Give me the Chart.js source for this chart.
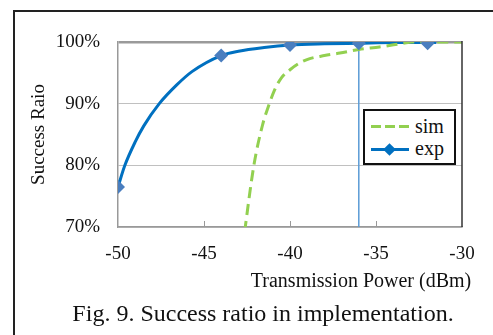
<!DOCTYPE html>
<html>
<head>
<meta charset="utf-8">
<script src="https://cdn.jsdelivr.net/npm/chart.js@4/dist/chart.umd.min.js"></script>
<style>
  html, body { margin: 0; padding: 0; background: #fff; }
  body { width: 493px; height: 335px; position: relative; overflow: hidden; font-family: "Liberation Serif", "Times New Roman", serif; color: #111; }
  #frame { position: absolute; left: 13px; top: 10px; width: 600px; height: 400px; border-left: 2px solid #222; border-top: 2px solid #222; }
  #chart { position: absolute; left: 0; top: 0; }
  .txt { position: absolute; white-space: nowrap; line-height: 1; }
  #xtitle { left: 361px; top: 270px; font-size: 20px; transform: translateX(-50%); }
  #caption { left: 263px; top: 301px; font-size: 24px; transform: translateX(-50%); }
  #legend { position: absolute; left: 363px; top: 109px; width: 89px; height: 52px; border: 2px solid #111; background: #fff; }
  .dash { position: absolute; height: 3px; background: #92D050; }
  .bline { position: absolute; height: 3px; background: #0070C0; }
  .dia { position: absolute; width: 9px; height: 9px; background: #0070C0; transform: rotate(45deg); }
  .lab { position: absolute; font-size: 20px; line-height: 1; }
</style>
</head>
<body>
<div id="frame"></div>
<canvas id="chart" width="493" height="335"></canvas>
<div class="txt" id="xtitle">Transmission Power (dBm)</div>
<div class="txt" id="caption">Fig. 9. Success ratio in implementation.</div>
<div id="legend">
  <div class="dash" style="left:6px; top:14px; width:10px;"></div>
  <div class="dash" style="left:20px; top:14px; width:10px;"></div>
  <div class="dash" style="left:34px; top:14px; width:10px;"></div>
  <div class="lab" style="left:50px; top:5px;">sim</div>
  <div class="bline" style="left:6px; top:37px; width:38px;"></div>
  <div class="dia" style="left:20px; top:34px;"></div>
  <div class="lab" style="left:50px; top:27px;">exp</div>
</div>
<script>
// x ticks / y ticks
const xMin = -50, xMax = -30, xStep = 5;
const yMin = 70, yMax = 100, yStep = 10;

// exp: measured points (markers)
const expX = [-50, -44, -40, -36, -32];
const expY = [76.5, 97.8, 99.5, 99.8, 99.8];

// exp: fitted curve as drawn
const expCurveX = [-50, -49.6, -49, -48.5, -47.6, -46.6, -45.7, -44, -43, -41.5, -40, -38, -36, -34, -32, -31.5];
const expCurveY = [76.5, 80, 83.8, 86.4, 90, 93, 95.2, 97.8, 98.5, 99.1, 99.5, 99.7, 99.8, 99.9, 99.9, 99.9];

// sim
const simX = [-43, -42.6, -42.1, -41.6, -41.2, -40.9, -40.5, -40, -39.5, -38.85, -38, -37.1, -36, -34.8, -33.4, -32.9, -30];
const simY = [61, 70, 80, 86.5, 90, 92.2, 94.2, 95.5, 96.5, 97.3, 97.8, 98.2, 98.8, 99.2, 99.8, 100, 100];

// reference line
const refX = -36;

const pts = (xs, ys) => xs.map((x, i) => ({ x, y: ys[i] }));
const serif = "'Liberation Serif', 'Times New Roman', serif";

// inner tick marks on x axis + dark right border
const frameBits = {
  id: 'frameBits',
  afterDatasetsDraw(chart) {
    const { ctx, chartArea: a, scales: { x } } = chart;
    ctx.save();
    ctx.strokeStyle = '#999';
    ctx.lineWidth = 1;
    for (let v = xMin + xStep; v < xMax; v += xStep) {
      const px = Math.round(x.getPixelForValue(v)) + 0.5;
      ctx.beginPath();
      ctx.moveTo(px, a.bottom);
      ctx.lineTo(px, a.bottom - 6);
      ctx.stroke();
    }
    ctx.strokeStyle = '#333';
    ctx.lineWidth = 1.5;
    ctx.beginPath();
    ctx.moveTo(a.right, a.top - 1);
    ctx.lineTo(a.right, a.bottom);
    ctx.stroke();
    ctx.restore();
  }
};

new Chart(document.getElementById('chart'), {
  type: 'line',
  data: {
    datasets: [
      {
        label: 'exp',
        data: pts(expX, expY),
        showLine: false,
        pointStyle: 'rectRot',
        pointRadius: 7,
        backgroundColor: '#4A7EBF',
        borderColor: '#4A7EBF',
        borderWidth: 0
      },
      {
        label: 'sim',
        data: pts(simX, simY),
        borderColor: '#92D050',
        borderWidth: 3,
        borderDash: [11, 6],
        cubicInterpolationMode: 'monotone',
        pointRadius: 0
      },
      {
        label: 'exp curve',
        data: pts(expCurveX, expCurveY),
        borderColor: '#0070C0',
        borderWidth: 3,
        cubicInterpolationMode: 'monotone',
        pointRadius: 0
      },
      {
        label: 'ref',
        data: [{ x: refX, y: yMin }, { x: refX, y: yMax }],
        borderColor: '#5B9BD5',
        borderWidth: 1.5,
        pointRadius: 0
      }
    ]
  },
  options: {
    responsive: false,
    animation: false,
    layout: { padding: { left: 28, top: 42, right: 31, bottom: 68 } },
    plugins: { legend: { display: false }, tooltip: { enabled: false } },
    scales: {
      x: {
        type: 'linear',
        min: xMin, max: xMax,
        afterFit: s => { s.height = 40; },
        grid: { display: false, drawTicks: false },
        border: { display: true, color: '#999', width: 1.5 },
        ticks: { stepSize: xStep, padding: 16, color: '#111', font: { family: serif, size: 19 } }
      },
      y: {
        min: yMin, max: yMax,
        afterFit: s => { s.width = 90; },
        grid: {
          drawTicks: false,
          color: c => c.tick && c.tick.value === yMax ? '#9a9a9a' : '#c0c0c0',
          lineWidth: c => c.tick && c.tick.value === yMax ? 2.5 : 1
        },
        border: { display: true, color: '#999', width: 1.5 },
        title: { display: true, text: 'Success Raio', color: '#111', padding: 0, font: { family: serif, size: 19 } },
        ticks: { stepSize: yStep, padding: 18, color: '#111', font: { family: serif, size: 19 }, callback: v => v + '%' }
      }
    }
  },
  plugins: [frameBits]
});
</script>
</body>
</html>
